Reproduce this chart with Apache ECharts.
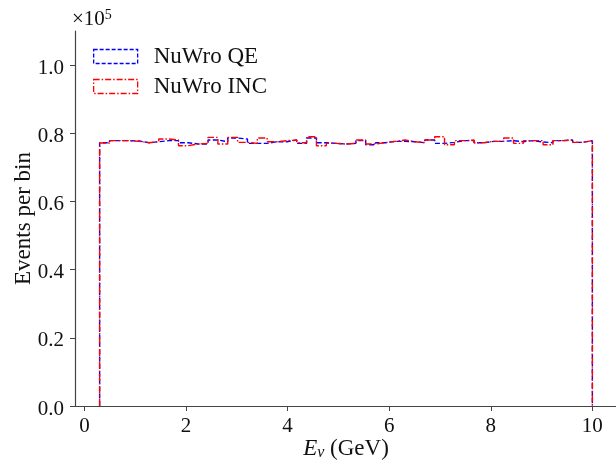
<!DOCTYPE html>
<html>
<head>
<meta charset="utf-8">
<script src="https://cdn.jsdelivr.net/npm/echarts@6/dist/echarts.min.js"></script>
<style>html,body{margin:0;padding:0;background:#fff;}#c{width:616px;height:461px;}</style>
</head>
<body>
<div id="c"></div>
<script>
// ---- data ----
var binStart = 0.3, binEnd = 10.0, nBins = 50;
var seriesNames = ['NuWro QE', 'NuWro INC'];
var qeCounts = [77240, 77830, 77830, 77730, 77240, 77530, 77830, 77830, 77240, 76850,
  76850, 78020, 77530, 78610, 78320, 77040, 77040, 77530, 77530, 78020,
  77040, 78610, 77240, 77040, 76850, 77040, 77830, 76650, 77240, 77630,
  77630, 77530, 77240, 78020, 77040, 77340, 77830, 77830, 77240, 77630,
  77630, 77830, 77530, 77830, 77430, 77240, 77830, 78020, 77340, 77830];
var incCounts = [77140, 77830, 77830, 77630, 77240, 77530, 78320, 78020, 76360, 76850,
  77040, 78810, 76850, 78810, 77340, 77040, 78610, 77530, 77830, 78020,
  77240, 79000, 76360, 77040, 76850, 77040, 78020, 76850, 77240, 77630,
  78020, 77530, 77240, 78020, 79000, 76650, 77830, 78020, 77240, 77630,
  77630, 78610, 77040, 77830, 77830, 76650, 77830, 78020, 77340, 77830];
var xTicks = [0, 2, 4, 6, 8, 10];
var yTicks = [0, 20000, 40000, 60000, 80000, 100000];

function stepData(counts) {
  var w = (binEnd - binStart) / nBins;
  var pts = [[binStart, 0]];
  for (var i = 0; i < counts.length; i++) pts.push([binStart + i * w, counts[i]]);
  pts.push([binEnd, counts[counts.length - 1]]);
  pts.push([binEnd, 0]);
  return pts;
}

var FONT = 'Liberation Serif';
var chart = echarts.init(document.getElementById('c'), null, {renderer: 'canvas'});
var qeDash = [5, 2.4];
var incDash = [7, 2, 1.5, 2];
chart.setOption({
  animation: false,
  backgroundColor: '#fff',
  grid: {left: 75, top: 31, width: 542, height: 375, containLabel: false, outerBoundsMode: 'none'},
  legend: {
    left: 93, top: 45, padding: 0, orient: 'vertical', itemWidth: 44, itemHeight: 14, itemGap: 7,
    textStyle: {fontFamily: FONT, fontSize: 23, color: '#111', padding: [0, 0, 0, 11]},
    data: [
      {name: seriesNames[0], icon: 'rect', itemStyle: {color: 'rgba(0,0,0,0)', borderColor: '#0000ff', borderWidth: 1.3, borderType: [4, 2]}},
      {name: seriesNames[1], icon: 'rect', itemStyle: {color: 'rgba(0,0,0,0)', borderColor: '#ff0000', borderWidth: 1.3, borderType: [6, 2, 1.5, 2]}}
    ]
  },
  xAxis: {
    type: 'value', min: -0.185, max: 10.485,
    axisLine: {show: true, onZero: false, lineStyle: {color: '#444', width: 1.2}},
    axisTick: {show: true, length: 5, inside: false, customValues: xTicks, lineStyle: {color: '#444', width: 1}},
    axisLabel: {customValues: xTicks, fontFamily: FONT, fontSize: 21, color: '#111', margin: 10},
    splitLine: {show: false},
    name: '{i|E}{s|ν} (GeV)', nameLocation: 'middle', nameGap: 31, nameMoveOverlap: false,
    nameTextStyle: {fontFamily: FONT, fontSize: 23, color: '#111',
      rich: {i: {fontStyle: 'italic', fontFamily: FONT, fontSize: 23}, s: {fontStyle: 'italic', fontFamily: FONT, fontSize: 16, verticalAlign: 'bottom', padding: [8, 0, 0, 0]}}}
  },
  yAxis: {
    type: 'value', min: 0, max: 110000,
    axisLine: {show: true, onZero: false, lineStyle: {color: '#444', width: 1.2}},
    axisTick: {show: true, length: 5, customValues: yTicks, lineStyle: {color: '#444', width: 1}},
    axisLabel: {customValues: yTicks, fontFamily: FONT, fontSize: 21, color: '#111', margin: 11,
      verticalAlign: 'top', lineHeight: 6,
      formatter: function (v) { return (v / 1e5).toFixed(1); }},
    splitLine: {show: false},
    name: 'Events per bin', nameLocation: 'middle', nameGap: 40, nameMoveOverlap: false,
    nameTextStyle: {fontFamily: FONT, fontSize: 23, color: '#111'}
  },
  graphic: [{
    type: 'text', left: 72, top: 8,
    style: {text: '×10{s|5}', fontFamily: FONT, fontSize: 21, fill: '#111',
      rich: {s: {fontFamily: FONT, fontSize: 14, verticalAlign: 'top', padding: [0, 0, 9, 0]}}}
  }],
  series: [
    {name: seriesNames[0], type: 'line', step: 'end', data: stepData(qeCounts), showSymbol: false, symbol: 'none',
      lineStyle: {color: '#0000ff', width: 1.4, type: qeDash}, itemStyle: {color: '#0000ff'}, z: 2},
    {name: seriesNames[1], type: 'line', step: 'end', data: stepData(incCounts), showSymbol: false, symbol: 'none',
      lineStyle: {color: '#ff0000', width: 1.4, type: incDash}, itemStyle: {color: '#ff0000'}, z: 3}
  ]
});
</script>
</body>
</html>
